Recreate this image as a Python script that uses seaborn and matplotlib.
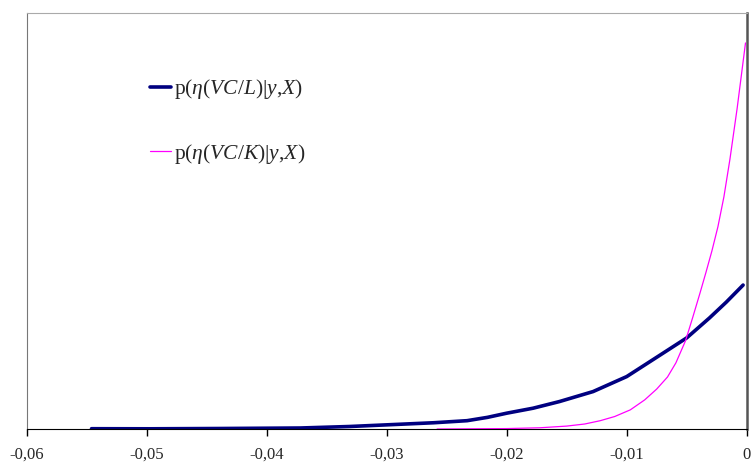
import numpy as np
import pandas as pd
import seaborn as sns
import matplotlib
matplotlib.use("Agg")
import matplotlib.pyplot as plt
from matplotlib.ticker import FuncFormatter

# -------------------------------
# DATA
# -------------------------------
vcl_x = [-0.0546, -0.0497, -0.0439, -0.0372, -0.0331, -0.0303, -0.0261, -0.0233,
         -0.0216, -0.0200, -0.0178, -0.0156, -0.0128, -0.0100, -0.0072,
         -0.0050, -0.0031, -0.0017, -0.0003]
vcl_y = [0.07, 0.05, 0.12, 0.24, 0.6, 0.96, 1.5, 2.0,
         2.8, 3.8, 5.0, 6.6, 9.0, 12.6, 17.8,
         21.9, 26.7, 30.5, 34.6]

vck_x = [-0.0258, -0.0231, -0.0200, -0.0172, -0.0150, -0.0135, -0.0122, -0.0110,
         -0.0097, -0.0085, -0.0075, -0.0066, -0.0059, -0.0051, -0.0045, -0.0039,
         -0.0034, -0.0029, -0.0024, -0.0019, -0.0014, -0.0008, -0.0001]
vck_y = [0.0, 0.05, 0.1, 0.3, 0.7, 1.2, 2.0, 3.0,
         4.6, 7.0, 9.6, 12.5, 15.9, 21.2, 26.8, 32.6,
         37.6, 42.8, 48.6, 55.8, 64.8, 77.0, 92.8]

xticks = [-0.06, -0.05, -0.04, -0.03, -0.02, -0.01, 0.0]

label_l = r"p($\eta$($VC/L$)|$y$,$X$)"
label_k = r"p($\eta$($VC/K$)|$y$,$X$)"

df_l = pd.DataFrame({"x": vcl_x, "y": vcl_y})
df_k = pd.DataFrame({"x": vck_x, "y": vck_y})

# -------------------------------
# STYLE
# -------------------------------
sns.set_style("white")
plt.rcParams["font.family"] = ["Liberation Serif", "DejaVu Serif"]
plt.rcParams["mathtext.fontset"] = "custom"
plt.rcParams["mathtext.rm"] = "Liberation Serif"
plt.rcParams["mathtext.it"] = "Liberation Serif:italic"

# -------------------------------
# PLOT
# -------------------------------
fig = plt.figure(figsize=(7.54, 4.62), dpi=100)
ax = fig.add_axes([26.7 / 754, 33 / 462, 720 / 754, 416 / 462])

sns.lineplot(data=df_l, x="x", y="y", color="#000080", lw=2.6, ax=ax, label=label_l)
sns.lineplot(data=df_k, x="x", y="y", color="#ff00ff", lw=0.9, ax=ax, label=label_k)

ax.set_xlim(-0.06, 0.0)
ax.set_ylim(0, 100)
ax.set_xticks(xticks)
ax.xaxis.set_major_formatter(
    FuncFormatter(lambda v, p: "0" if abs(v) < 1e-9 else f"{v:.2f}".replace(".", ","))
)
ax.set_yticks([])
ax.set_xlabel("")
ax.set_ylabel("")
ax.tick_params(axis="x", direction="out", length=5, width=1, color="black",
               labelsize=12, pad=8, bottom=True)

ax.spines["bottom"].set_color("black")
ax.spines["left"].set_color("#777777")
ax.spines["top"].set_color("#aaaaaa")
ax.spines["right"].set_color("#555555")
ax.spines["right"].set_linewidth(1.8)
for s in ax.spines.values():
    s.set_visible(True)

leg = ax.legend(loc="upper left", bbox_to_anchor=(0.171, 0.846), frameon=False,
                fontsize=15.5, handlelength=1.0, handletextpad=0.1, labelspacing=1.9,
                borderpad=0, borderaxespad=0)

fig.savefig("out.png", dpi=100)
